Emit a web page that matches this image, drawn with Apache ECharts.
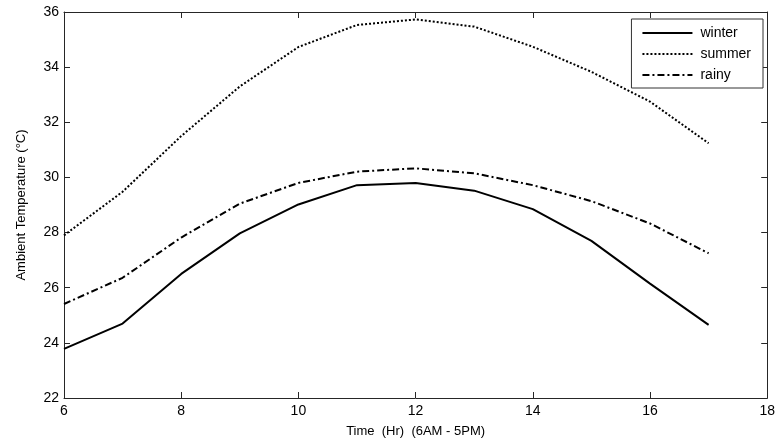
<!DOCTYPE html>
<html><head><meta charset="utf-8">
<script src="https://cdn.jsdelivr.net/npm/echarts@6/dist/echarts.min.js"></script>
<style>html,body{margin:0;padding:0;background:#fff}#c{width:778px;height:444px}</style>
</head><body><div id="c"></div>
<script>
const hours = [6,7,8,9,10,11,12,13,14,15,16,17];
const winter = [23.78,24.7,26.5,27.97,29.02,29.72,29.8,29.52,28.85,27.7,26.15,24.65];
const summer = [27.9,29.48,31.5,33.3,34.73,35.53,35.73,35.47,34.74,33.83,32.75,31.24];
const rainy  = [25.41,26.36,27.82,29.05,29.8,30.21,30.33,30.15,29.72,29.14,28.33,27.25];
const xTicks = [6,8,10,12,14,16,18];
const yTicks = [22,24,26,28,30,32,34,36];

const font = 'Liberation Sans, Arial, sans-serif';
const axisLine = {show:true, lineStyle:{color:'#262626', width:1}};
const tickIn = {show:true, inside:true, length:6, lineStyle:{color:'#262626'}};
function mk(arr){ return hours.map((h,i)=>[h,arr[i]]); }

const chart = echarts.init(document.getElementById('c'), null, {renderer:'canvas'});
chart.setOption({
  animation:false,
  backgroundColor:'#fff',
  grid:{left:64, right:9, top:12, bottom:46},
  legend:{
    right:15, top:19, orient:'vertical', itemWidth:50, itemHeight:10, itemGap:7,
    padding:[7,12,6,10],
    borderColor:'#333', borderWidth:1, backgroundColor:'#fff',
    itemStyle:{color:'transparent', borderWidth:0, opacity:0},
    textStyle:{fontFamily:font, fontSize:14, color:'#000', padding:[0,0,0,3]},
    data:['winter','summer','rainy']
  },
  xAxis:[{
    type:'value', min:6, max:18, interval:2,
    axisLine:axisLine, axisTick:tickIn, splitLine:{show:false},
    axisLabel:{fontFamily:font, fontSize:14, color:'#000', margin:6},
    name:'Time  (Hr)  (6AM - 5PM)', nameLocation:'middle', nameGap:27,
    nameTextStyle:{fontFamily:font, fontSize:13, color:'#000'}
  },{
    type:'value', min:6, max:18, interval:2, position:'top',
    axisLine:axisLine, axisTick:tickIn, axisLabel:{show:false}, splitLine:{show:false}
  }],
  yAxis:[{
    type:'value', min:22, max:36, interval:2,
    axisLine:axisLine, axisTick:tickIn, splitLine:{show:false},
    axisLabel:{fontFamily:font, fontSize:14, color:'#000', margin:5},
    name:'Ambient Temperature (°C)', nameLocation:'middle', nameGap:36,
    nameTextStyle:{fontFamily:font, fontSize:13, color:'#000'}
  },{
    type:'value', min:22, max:36, interval:2, position:'right',
    axisLine:axisLine, axisTick:tickIn, axisLabel:{show:false}, splitLine:{show:false}
  }],
  series:[
    {name:'winter', type:'line', data:mk(winter), symbol:'none', color:'#000',
     lineStyle:{color:'#000', width:2, type:'solid'}},
    {name:'summer', type:'line', data:mk(summer), symbol:'none', color:'#000',
     lineStyle:{color:'#000', width:2, type:[2,2]}},
    {name:'rainy', type:'line', data:mk(rainy), symbol:'none', color:'#000',
     lineStyle:{color:'#000', width:2, type:[7,3,2,3]}}
  ]
});
</script></body></html>
